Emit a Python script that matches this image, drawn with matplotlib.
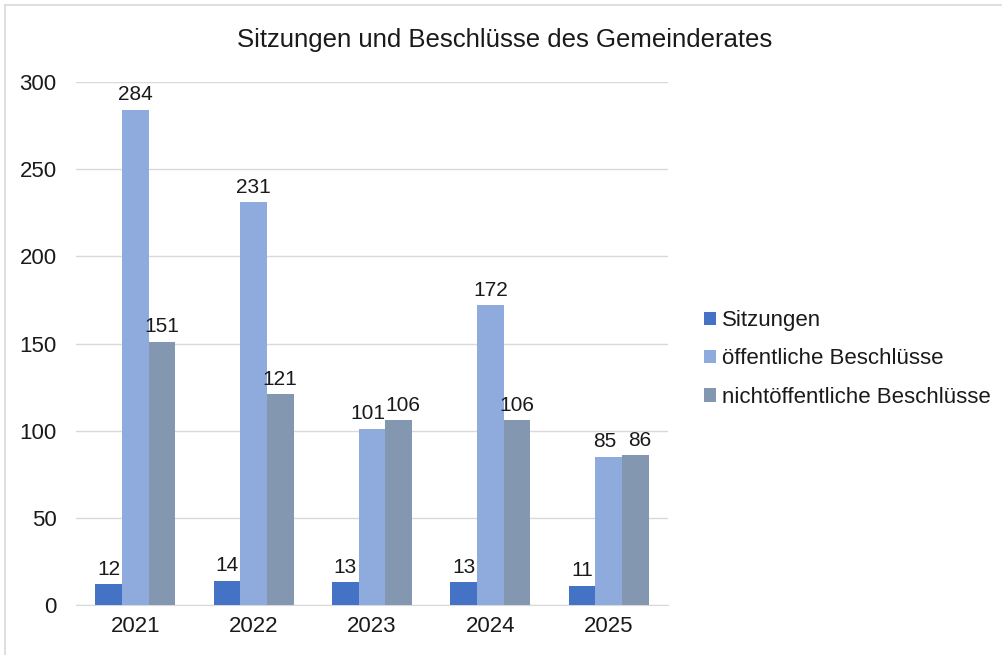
import matplotlib
matplotlib.use("Agg")
import matplotlib.pyplot as plt
import numpy as np

plt.rcParams['font.family'] = ['Liberation Sans', 'DejaVu Sans']

years = ["2021", "2022", "2023", "2024", "2025"]
sitzungen = [12, 14, 13, 13, 11]
oeffentlich = [284, 231, 101, 172, 85]
nichtoeffentlich = [151, 121, 106, 106, 86]
series_names = ["Sitzungen", "öffentliche Beschlüsse", "nichtöffentliche Beschlüsse"]
colors = ["#4472C4", "#8FAADC", "#8497B0"]
title = "Sitzungen und Beschlüsse des Gemeinderates"

fig = plt.figure(figsize=(10.03, 6.55), dpi=100)
ax = fig.add_axes([76/1003, 50/655, 592/1003, 523/655])

x = np.arange(len(years))
w = 0.225
all_series = [sitzungen, oeffentlich, nichtoeffentlich]
for i, (vals, name, c) in enumerate(zip(all_series, series_names, colors)):
    pos = x + (i - 1) * w
    bars = ax.bar(pos, vals, width=w, color=c, label=name, zorder=3)
    for j, (b, v) in enumerate(zip(bars, vals)):
        dx = 0
        # push apart neighbouring labels of similar height (as the reference does)
        if i == 1 and abs(oeffentlich[j] - nichtoeffentlich[j]) < 12:
            dx = -3
        if i == 2 and abs(oeffentlich[j] - nichtoeffentlich[j]) < 12:
            dx = 3
        ax.annotate(str(v), (b.get_x() + b.get_width() / 2, v), xytext=(dx, 4),
                    textcoords="offset points", ha="center", va="bottom",
                    fontsize=15, color="#1a1a1a")

ax.set_xlim(-0.5, len(years) - 0.5)
ax.set_ylim(0, 300)
ax.set_yticks(range(0, 301, 50))
ax.set_xticks(x)
ax.set_xticklabels(years)
ax.tick_params(axis="both", length=0, labelsize=16, colors="#1a1a1a")
ax.tick_params(axis="y", pad=14)
ax.tick_params(axis="x", pad=8)
ax.grid(axis="y", color="#d9d9d9", linewidth=1, zorder=0)
for s in ["top", "right", "left"]:
    ax.spines[s].set_visible(False)
ax.spines["bottom"].set_color("#d9d9d9")

fig.text(505/1003, 1 - 40/655, title, ha="center", va="center", fontsize=18.5, color="#1a1a1a")

leg = fig.legend(loc="center left", bbox_to_anchor=(684/1003, 1 - 359/655), frameon=False,
                 fontsize=16, handlelength=0.55, handleheight=0.55, handletextpad=0.25,
                 labelspacing=0.78, labelcolor="#1a1a1a")

# outer frame (top and left visible)
fig.add_artist(plt.Line2D([5/1003, 1], [1 - 5/655, 1 - 5/655], color="#d9d9d9", linewidth=1.2, transform=fig.transFigure))
fig.add_artist(plt.Line2D([5/1003, 5/1003], [0, 1 - 5/655], color="#d9d9d9", linewidth=1.2, transform=fig.transFigure))

fig.savefig("out.png", dpi=100)
